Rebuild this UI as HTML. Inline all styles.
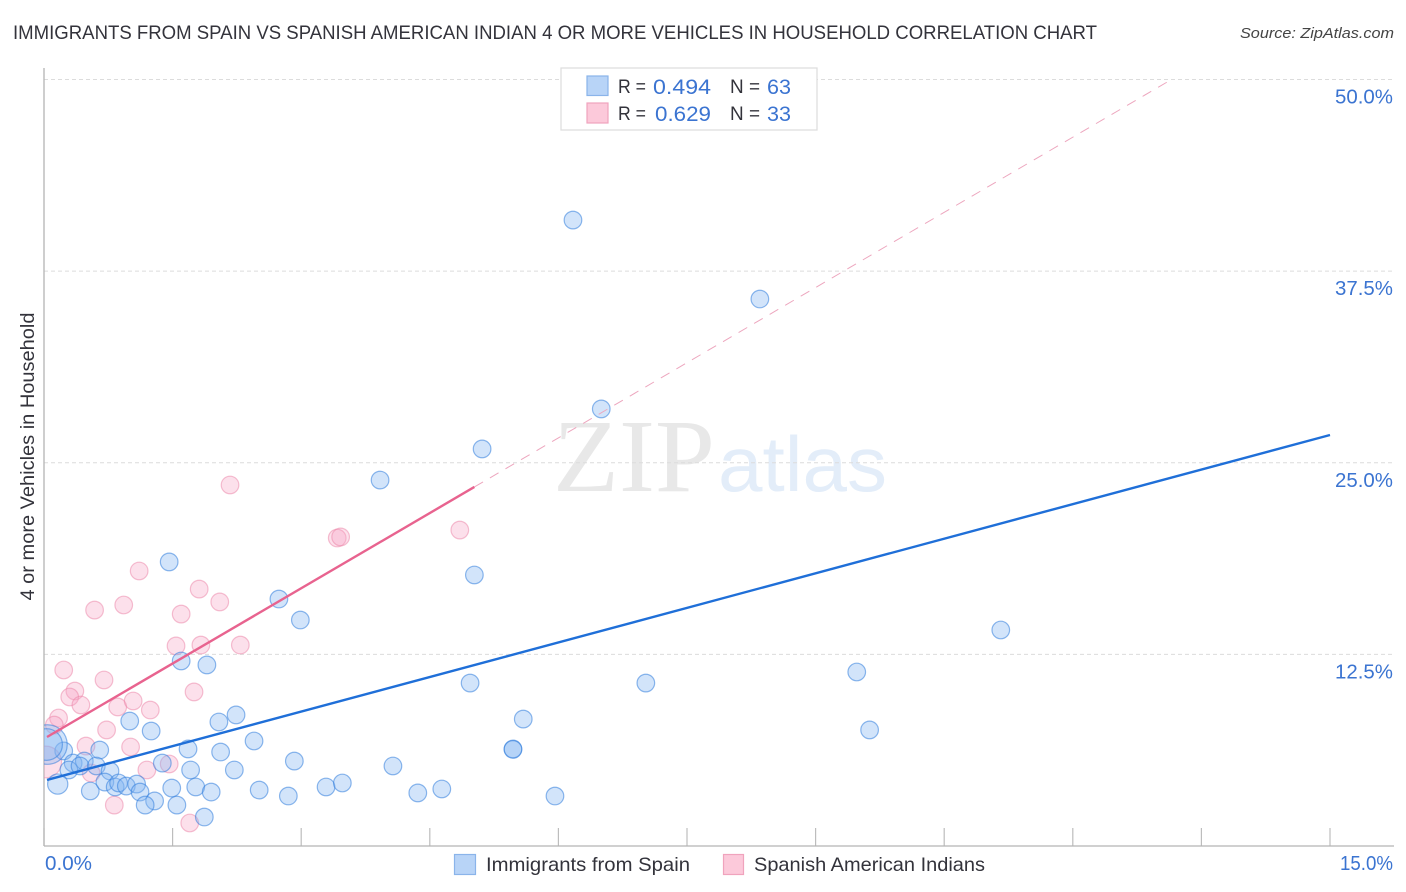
<!DOCTYPE html>
<html lang="en">
<head>
<meta charset="utf-8">
<title>Immigrants from Spain vs Spanish American Indian 4 or more Vehicles in Household Correlation Chart</title>
<style>
html,body{margin:0;padding:0;background:#fff;width:1406px;height:892px;overflow:hidden}
svg{display:block;font-family:"Liberation Sans",sans-serif}
</style>
</head>
<body>
<svg id="chart" width="1406" height="892" viewBox="0 0 1406 892" xmlns="http://www.w3.org/2000/svg">
  <defs><clipPath id="plot-clip"><rect x="44" y="60" width="1350" height="786"/></clipPath></defs>
  <rect width="1406" height="892" fill="#fff"/>
  <text x="13" y="39" font-size="19" fill="#33333b" textLength="1084" lengthAdjust="spacingAndGlyphs">IMMIGRANTS FROM SPAIN VS SPANISH AMERICAN INDIAN 4 OR MORE VEHICLES IN HOUSEHOLD CORRELATION CHART</text>
  <text x="1394" y="38" font-size="15" font-style="italic" fill="#444" text-anchor="end" textLength="154" lengthAdjust="spacingAndGlyphs">Source: ZipAtlas.com</text>

  <g>
    <text x="553" y="491" font-family="'Liberation Serif',serif" font-size="104" fill="#e8e8e8" textLength="162" lengthAdjust="spacingAndGlyphs">ZIP</text>
    <text x="718" y="491" font-size="78" fill="#e3edf9" textLength="169" lengthAdjust="spacingAndGlyphs">atlas</text>
  </g>

  <g id="grid"></g>
  <g id="ticks"></g>
  <line x1="44" y1="68" x2="44" y2="846" stroke="#b4b4b4" stroke-width="1.3"/>
  <line x1="44" y1="846" x2="1394" y2="846" stroke="#b4b4b4" stroke-width="1.3"/>

  <g id="points" clip-path="url(#plot-clip)"></g>
  <g id="lines"></g>
  <g id="ylabels"></g>

  <text transform="translate(34 456.5) rotate(-90)" font-size="19" fill="#33333b" text-anchor="middle" textLength="288" lengthAdjust="spacingAndGlyphs">4 or more Vehicles in Household</text>
  <text x="45" y="870" font-size="20" fill="#3b74d1" textLength="47" lengthAdjust="spacingAndGlyphs">0.0%</text>
  <text x="1393" y="870" font-size="20" fill="#3b74d1" text-anchor="end" textLength="53" lengthAdjust="spacingAndGlyphs">15.0%</text>

  <g>
    <rect x="561" y="68" width="256" height="62" fill="#fff" stroke="#dcdcdc" stroke-width="1.2"/>
    <rect x="587" y="76" width="21" height="19.5" fill="#b8d4f7" stroke="#8ab4ea" stroke-width="1.2"/>
    <rect x="587" y="103" width="21" height="20" fill="#fcc9da" stroke="#f0a3bd" stroke-width="1.2"/>
    <text x="618" y="93" font-size="19.5" fill="#33333b" textLength="28" lengthAdjust="spacingAndGlyphs">R =</text>
    <text x="653" y="94" font-size="21.5" fill="#3b74d1" textLength="58" lengthAdjust="spacingAndGlyphs">0.494</text>
    <text x="730" y="93" font-size="19.5" fill="#33333b" textLength="30" lengthAdjust="spacingAndGlyphs">N =</text>
    <text x="767" y="94" font-size="21.5" fill="#3b74d1" textLength="24" lengthAdjust="spacingAndGlyphs">63</text>
    <text x="618" y="120" font-size="19.5" fill="#33333b" textLength="28" lengthAdjust="spacingAndGlyphs">R =</text>
    <text x="655" y="121" font-size="21.5" fill="#3b74d1" textLength="56" lengthAdjust="spacingAndGlyphs">0.629</text>
    <text x="730" y="120" font-size="19.5" fill="#33333b" textLength="30" lengthAdjust="spacingAndGlyphs">N =</text>
    <text x="767" y="121" font-size="21.5" fill="#3b74d1" textLength="24" lengthAdjust="spacingAndGlyphs">33</text>
  </g>

  <g>
    <rect x="454.5" y="854.5" width="21" height="20" fill="#b8d4f7" stroke="#8ab4ea" stroke-width="1.2"/>
    <text x="486" y="871" font-size="19.5" fill="#33333b" textLength="204" lengthAdjust="spacingAndGlyphs">Immigrants from Spain</text>
    <rect x="723.5" y="854.5" width="20" height="20" fill="#fcc9da" stroke="#f0a3bd" stroke-width="1.2"/>
    <text x="754" y="871" font-size="19.5" fill="#33333b" textLength="231" lengthAdjust="spacingAndGlyphs">Spanish American Indians</text>
  </g>
</svg>
<script>
const yTickValues = [12.5, 25, 37.5, 50];
const yTickLabels = ["12.5%", "25.0%", "37.5%", "50.0%"];
const xTickValues = [0, 1.5, 3, 4.5, 6, 7.5, 9, 10.5, 12, 13.5, 15];

const spainX = [6.17,8.35,6.50,5.11,3.92,1.46,5.02,2.74,2.99,11.16,1.60,1.90,9.48,4.97,7.02,2.24,5.59,1.00,2.04,9.63,1.25,2.45,1.68,5.47,5.47,2.06,0.65,0.23,2.92,4.07,1.38,1.71,2.22,0.34,0.29,0.47,0.42,0.61,0.77,0.16,0.54,0.71,0.83,0.87,0.96,1.08,1.12,1.49,1.77,1.95,2.51,3.29,3.48,2.85,4.36,4.64,5.96,1.29,1.18,1.55,1.87,0.04,0.03];
const spainY = [40.83,35.68,28.51,25.90,23.87,18.53,17.68,16.11,14.74,14.09,12.07,11.81,11.35,10.63,10.63,8.55,8.28,8.15,8.09,7.57,7.50,6.85,6.33,6.33,6.30,6.13,6.26,6.20,5.54,5.22,5.41,4.96,4.96,5.41,4.96,5.54,5.22,5.22,4.89,4.04,3.59,4.17,3.85,4.11,3.91,4.04,3.52,3.78,3.85,3.52,3.65,3.85,4.11,3.26,3.46,3.72,3.26,2.94,2.67,2.67,1.89,6.62,6.62];
const spainWeight = [1,1,1,1,1,1,1,1,1,1,1,1,1,1,1,1,1,1,1,1,1,1,1,1,1,1,1,1,1,1,1,1,1,1,1,1,1,1,1,1.15,1,1,1,1,1,1,1,1,1,1,1,1,1,1,1,1,1,1,1,1,1,2.25,1.8];

const indianX = [2.17,4.85,3.42,3.46,1.11,1.81,0.93,0.59,2.05,1.60,2.29,1.54,1.83,0.70,0.23,1.75,0.36,0.30,0.43,0.17,0.12,0.86,1.04,1.24,0.73,1.01,0.49,0.55,1.20,1.46,0.82,1.70,0.02];
const indianY = [23.55,20.61,20.09,20.16,17.94,16.76,15.72,15.39,15.92,15.13,13.11,13.05,13.11,10.83,11.48,10.05,10.11,9.72,9.20,8.35,7.89,9.07,9.46,8.87,7.57,6.46,6.52,4.76,4.96,5.35,2.67,1.50,5.48];
const indianWeight = [1,1,1,1,1,1,1,1,1,1,1,1,1,1,1,1,1,1,1,1,1,1,1,1,1,1,1,1,1,1,1,1,1.8];

const spainTrendX = [0.035, 15];
const spainTrendY = [4.31, 26.81];
const indianTrendX = [0.035, 5.02];
const indianTrendY = [7.11, 23.42];
const indianProjectionX = [5.02, 13.16];
const indianProjectionY = [23.42, 50.03];

const NS = "http://www.w3.org/2000/svg";
function xScale(v) { return 44 + v * (1330 - 44) / 15; }
function yScale(v) { return 846 - v * (846 - 79.5) / 50; }

const gridGroup = document.getElementById("grid");
const tickGroup = document.getElementById("ticks");
const labelGroup = document.getElementById("ylabels");
const pointGroup = document.getElementById("points");
const lineGroup = document.getElementById("lines");

yTickValues.forEach(function (v, i) {
  const gl = document.createElementNS(NS, "line");
  
  
  gl.setAttribute("x1", 44);
  gl.setAttribute("x2", 1394);
  gl.setAttribute("y1", yScale(v));
  gl.setAttribute("y2", yScale(v));
  gl.setAttribute("stroke", "#dcdcdc");
  gl.setAttribute("stroke-width", "1");
  gl.setAttribute("stroke-dasharray", "4 3");
  gridGroup.appendChild(gl);

  const t = document.createElementNS(NS, "text");
  
  
  t.setAttribute("x", 1393);
  t.setAttribute("y", yScale(v) + 24);
  t.setAttribute("font-size", "20");
  t.setAttribute("fill", "#3b74d1");
  t.setAttribute("text-anchor", "end");
  t.setAttribute("textLength", "58");
  t.setAttribute("lengthAdjust", "spacingAndGlyphs");
  t.textContent = yTickLabels[i];
  labelGroup.appendChild(t);
});

xTickValues.forEach(function (v) {
  const tk = document.createElementNS(NS, "line");
  
  
  tk.setAttribute("x1", xScale(v));
  tk.setAttribute("x2", xScale(v));
  tk.setAttribute("y1", 828);
  tk.setAttribute("y2", 846);
  tk.setAttribute("stroke", "#bdbdbd");
  tk.setAttribute("stroke-width", "1.2");
  tickGroup.appendChild(tk);
});

indianX.forEach(function (v, i) {
  const c = document.createElementNS(NS, "circle");
  
  
  c.setAttribute("cx", xScale(v));
  c.setAttribute("cy", yScale(indianY[i]));
  c.setAttribute("r", 8.8 * indianWeight[i]);
  c.setAttribute("fill", "rgba(247,165,195,0.34)");
  c.setAttribute("stroke", "rgba(236,130,165,0.5)");
  c.setAttribute("stroke-width", "1.2");
  pointGroup.appendChild(c);
});

spainX.forEach(function (v, i) {
  const c = document.createElementNS(NS, "circle");
  
  
  c.setAttribute("cx", xScale(v));
  c.setAttribute("cy", yScale(spainY[i]));
  c.setAttribute("r", 8.8 * spainWeight[i]);
  c.setAttribute("fill", "rgba(130,180,240,0.36)");
  c.setAttribute("stroke", "rgba(50,125,220,0.55)");
  c.setAttribute("stroke-width", "1.2");
  pointGroup.appendChild(c);
});

const projection = document.createElementNS(NS, "line");


projection.setAttribute("x1", xScale(indianProjectionX[0]));
projection.setAttribute("y1", yScale(indianProjectionY[0]));
projection.setAttribute("x2", xScale(indianProjectionX[1]));
projection.setAttribute("y2", yScale(indianProjectionY[1]));
projection.setAttribute("stroke", "#eda6be");
projection.setAttribute("stroke-width", "1");
projection.setAttribute("stroke-dasharray", "10 8");
lineGroup.appendChild(projection);

const indianTrend = document.createElementNS(NS, "line");


indianTrend.setAttribute("x1", xScale(indianTrendX[0]));
indianTrend.setAttribute("y1", yScale(indianTrendY[0]));
indianTrend.setAttribute("x2", xScale(indianTrendX[1]));
indianTrend.setAttribute("y2", yScale(indianTrendY[1]));
indianTrend.setAttribute("stroke", "#e8638f");
indianTrend.setAttribute("stroke-width", "2.4");
lineGroup.appendChild(indianTrend);

const spainTrend = document.createElementNS(NS, "line");


spainTrend.setAttribute("x1", xScale(spainTrendX[0]));
spainTrend.setAttribute("y1", yScale(spainTrendY[0]));
spainTrend.setAttribute("x2", xScale(spainTrendX[1]));
spainTrend.setAttribute("y2", yScale(spainTrendY[1]));
spainTrend.setAttribute("stroke", "#1f6fd8");
spainTrend.setAttribute("stroke-width", "2.4");
lineGroup.appendChild(spainTrend);
</script>
</body>
</html>
